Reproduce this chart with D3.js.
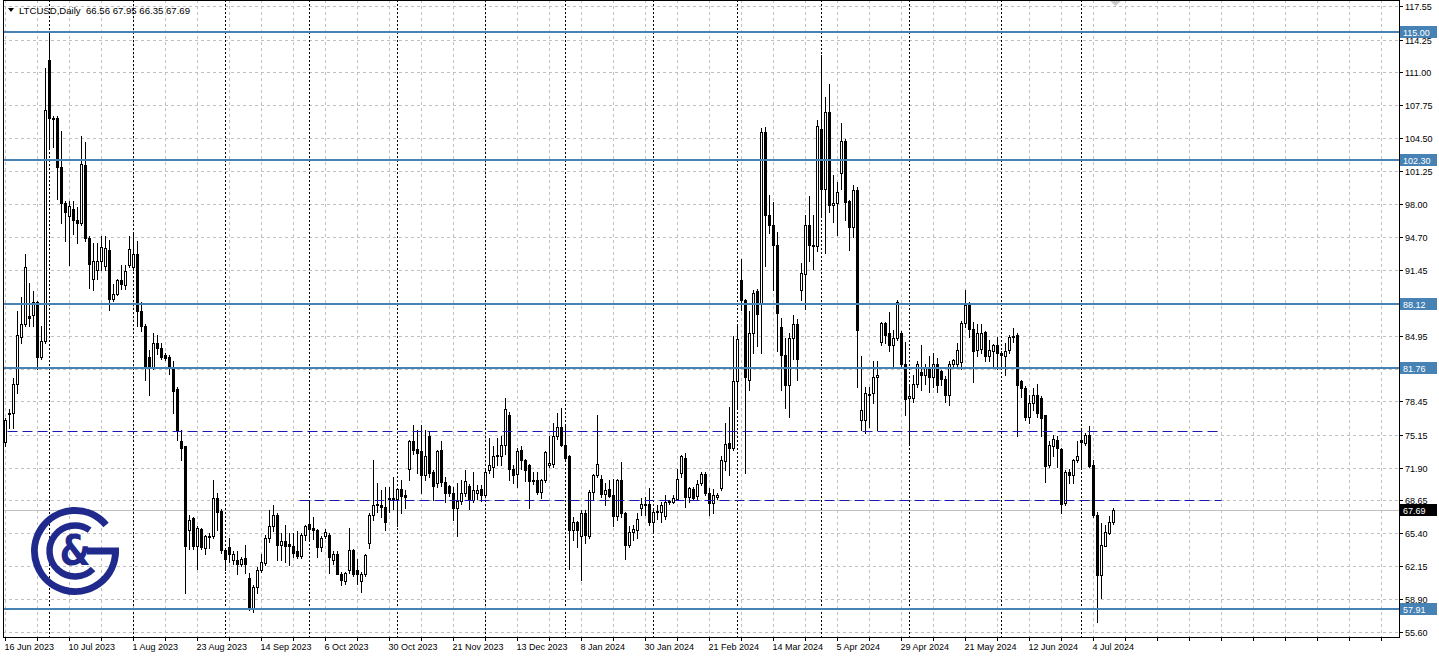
<!DOCTYPE html>
<html><head><meta charset="utf-8">
<script src="https://cdn.jsdelivr.net/npm/d3@7"></script>
<style>
html,body{margin:0;padding:0;background:#fff;overflow:hidden;}
svg{display:block;font-family:"Liberation Sans",Arial,sans-serif;}
</style></head><body>
<svg id="chart" width="1439" height="658"></svg>
<script>
// ---------- DATA ----------
const symbolTitle = "LTCUSD,Daily";
const lastBarOHLC = [66.56, 67.95, 66.35, 67.69];
const lastPrice = 67.69;

const dateLabels = ["16 Jun 2023","10 Jul 2023","1 Aug 2023","23 Aug 2023","14 Sep 2023","6 Oct 2023",
  "30 Oct 2023","21 Nov 2023","13 Dec 2023","8 Jan 2024","30 Jan 2024","21 Feb 2024","14 Mar 2024",
  "5 Apr 2024","29 Apr 2024","21 May 2024","12 Jun 2024","4 Jul 2024"];
const dateLabelBars = [0,16,32,48,64,80,96,112,128,144,160,176,192,208,224,240,256,272];
const monthStartBars = [11,32,55,76,98,120,140,162,183,204,226,249,269];

const priceTicks = ["117.55","114.25","111.00","107.75","104.50","101.25","98.00","94.70","91.45",
  "88.20","84.95","81.70","78.45","75.15","71.90","68.65","65.40","62.15","58.90","55.60"];
const hiddenTicks = ["88.20","81.70"];

const levelLines = [115.00, 102.30, 88.12, 81.76, 57.91];
const dashedLevels = [75.57, 68.74];
const dashedFromBar = [0, 73];
const dashedToBar = [304, 304];

// daily candles [open, high, low, close]
const candles = [
[74.4,76.8,74.0,76.6],[77.2,77.7,75.8,77.3],[77.3,80.8,75.8,80.2],[80.2,87.4,79.3,85.0],[84.8,88.8,84.2,86.1],
[86.1,93.0,85.9,91.7],[86.9,90.2,85.9,86.7],[87.0,89.4,85.9,88.3],[88.3,88.4,81.7,82.8],[82.8,85.9,82.6,84.4],
[84.4,111.4,84.2,107.25],[112.2,114.9,103.6,106.5],[106.5,106.7,103.6,106.4],[106.5,106.7,98.5,101.6],[101.6,105.2,96.1,98.1],
[98.1,98.3,94.3,97.2],[96.8,98.3,91.9,97.8],[97.5,98.3,95.0,96.4],[96.4,97.7,94.1,96.1],[96.1,104.7,95.9,101.9],
[101.8,104.1,94.3,94.6],[94.6,94.8,89.7,92.0],[90.6,94.1,89.5,92.3],[91.5,94.1,90.6,92.3],[92.3,94.8,91.5,93.7],
[91.8,94.8,91.5,93.6],[93.4,94.4,87.5,88.6],[88.6,90.1,88.4,89.1],[89.1,90.6,89.0,90.5],[90.5,91.9,89.6,90.1],
[90.0,91.9,89.6,91.4],[91.9,94.8,91.7,93.5],[91.7,95.0,91.5,93.0],[93.0,94.3,85.9,87.4],[87.4,88.3,85.4,85.9],
[85.9,86.1,80.6,81.9],[82.8,83.5,79.1,81.9],[81.9,85.2,81.7,84.2],[84.2,85.0,83.1,83.7],[83.7,84.2,82.6,82.8],
[83.0,83.2,82.5,82.7],[82.8,83.0,81.2,81.9],[81.9,82.4,77.3,79.5],[79.7,79.9,74.6,75.5],[74.5,75.6,72.7,73.8],
[74.0,74.0,59.5,64.1],[65.7,67.2,63.8,66.7],[66.9,67.0,63.8,64.1],[64.1,66.1,61.9,65.9],[65.8,65.9,63.8,64.0],
[63.9,65.2,63.4,65.1],[65.1,65.4,63.9,65.0],[65.1,70.7,64.9,68.9],[68.9,69.4,65.7,67.5],[67.6,67.8,63.5,63.7],
[63.7,63.9,61.8,62.9],[64.0,64.9,62.6,63.4],[62.8,63.6,62.4,63.4],[62.8,63.6,61.4,62.4],[62.4,63.1,62.2,62.9],
[63.0,64.2,61.5,62.4],[61.0,61.5,57.8,58.0],[58.0,60.3,57.6,60.1],[60.1,62.1,59.5,61.8],[61.8,63.4,61.6,62.6],
[62.5,65.2,62.3,64.9],[64.9,67.7,64.5,66.1],[66.1,68.2,65.6,67.2],[67.2,67.4,62.8,64.2],[64.2,65.4,62.8,64.6],
[64.6,66.2,62.6,64.1],[64.3,65.4,62.3,64.1],[64.1,65.4,63.1,63.5],[63.6,65.6,63.0,63.2],[63.2,65.4,63.0,65.2],
[65.2,66.2,64.7,66.1],[66.3,68.7,64.8,65.8],[65.9,67.0,64.8,65.7],[65.7,65.8,63.1,64.0],[64.0,65.1,63.6,64.9],
[65.1,65.8,64.9,65.5],[65.2,65.4,61.5,63.1],[62.8,63.6,62.4,63.4],[63.4,63.6,61.4,61.4],[61.4,61.6,60.3,60.8],
[60.7,61.6,60.4,61.5],[61.8,65.9,61.5,63.7],[63.7,63.8,61.2,61.4],[61.8,62.9,60.4,61.4],[60.7,61.6,59.6,61.4],
[61.4,63.4,61.2,63.3],[64.4,67.4,63.9,67.2],[67.2,72.7,66.7,68.2],[68.3,70.4,67.5,68.2],[68.2,69.7,67.0,68.0],
[68.0,70.0,65.7,66.5],[68.8,70.0,67.5,68.9],[68.8,71.0,67.8,68.9],[68.8,69.9,66.1,69.8],[69.8,70.7,67.4,69.1],
[69.2,69.7,67.9,69.0],[71.8,74.6,70.7,74.5],[74.5,76.1,73.2,73.6],[73.7,75.6,71.4,73.3],[73.5,76.1,69.4,71.2],
[71.2,75.6,70.7,73.05],[75.0,75.5,71.0,71.4],[71.5,71.7,68.7,70.1],[70.4,73.6,70.0,73.5],[73.6,74.5,70.1,70.5],
[70.5,71.0,68.5,69.4],[70.1,70.2,69.1,69.4],[69.4,70.0,66.7,67.9],[67.9,70.4,65.1,68.6],[68.6,70.7,68.3,69.4],
[69.4,71.7,69.1,70.6],[70.1,70.3,67.8,68.8],[68.7,71.5,68.5,69.7],[69.4,70.2,68.8,69.7],[69.8,70.2,68.6,69.2],
[69.2,71.7,69.0,71.5],[71.7,74.8,71.4,72.2],[72.0,74.0,71.0,73.05],[73.0,74.8,72.2,73.1],[73.0,75.0,72.2,74.1],
[74.1,78.8,73.2,77.7],[77.1,77.4,70.7,71.8],[71.8,72.2,70.35,71.2],[71.3,73.8,70.0,73.5],[73.6,74.0,71.8,72.7],
[72.7,72.8,70.6,71.7],[72.2,72.3,67.9,70.6],[70.7,71.5,70.3,70.6],[70.7,71.5,69.3,69.5],[69.5,70.8,68.9,70.7],
[70.7,73.5,70.5,73.4],[72.2,75.0,72.0,72.4],[72.3,76.3,72.0,75.0],[75.0,77.3,74.7,75.9],[75.9,77.8,74.0,74.1],
[74.1,76.0,72.8,72.9],[73.0,73.1,61.9,65.7],[65.7,67.0,64.7,66.5],[66.5,66.6,64.0,65.7],[65.1,67.7,60.8,67.4],
[67.4,67.7,64.4,65.2],[65.1,69.7,64.9,69.5],[69.5,71.3,68.7,71.2],[71.2,77.1,71.0,72.3],[70.8,71.2,69.0,69.3],
[69.3,70.4,68.2,69.7],[69.8,70.7,69.0,69.1],[69.2,70.8,66.1,67.1],[67.1,70.8,66.7,70.7],[70.7,72.5,67.0,67.4],
[67.4,67.5,62.9,64.2],[64.2,66.1,64.0,65.5],[65.5,66.2,64.7,65.8],[65.7,67.4,64.9,66.8],[67.9,68.9,67.2,68.3],
[68.3,69.0,67.2,68.2],[68.3,69.9,66.2,66.5],[66.5,67.9,65.5,67.5],[67.6,68.2,66.8,67.5],[67.5,68.5,66.5,68.2],
[67.1,69.2,66.8,68.5],[68.5,68.7,68.3,68.6],[68.5,69.2,68.4,68.9],[68.8,71.8,68.7,70.8],[71.4,73.15,71.0,73.0],
[72.9,73.3,68.0,69.0],[69.0,70.0,68.5,69.85],[69.8,70.0,68.8,68.9],[69.05,70.7,68.8,70.3],[70.4,71.5,70.2,71.3],
[71.3,71.5,69.2,69.4],[69.4,69.9,67.2,68.4],[68.4,69.8,67.4,69.2],[69.0,69.4,68.8,69.2],[69.85,73.0,69.7,72.65],
[72.6,76.3,71.7,74.2],[74.3,77.9,71.2,73.8],[73.8,84.9,73.6,80.5],[80.5,86.1,77.9,84.6],[90.5,92.5,87.5,88.5],
[88.5,88.6,71.4,80.9],[80.6,87.4,79.6,85.2],[85.2,89.5,83.2,89.2],[89.4,89.6,83.9,87.1],[88.1,105.5,83.2,105.1],
[105.1,105.6,91.8,96.9],[96.9,98.9,95.1,95.9],[95.9,98.2,89.5,93.9],[93.9,95.2,83.4,87.2],[85.8,86.7,79.6,83.0],
[83.0,84.7,77.8,80.1],[80.1,85.2,76.9,84.7],[84.7,87.0,82.6,86.1],[86.1,86.6,80.6,82.6],[89.5,92.1,88.5,91.2],
[91.1,96.9,87.6,95.9],[95.9,98.8,92.3,93.9],[93.9,96.9,91.6,93.8],[93.8,106.3,93.3,105.7],[105.4,112.7,96.9,99.5],
[99.5,108.6,93.1,107.1],[107.1,109.9,97.2,97.9],[97.9,100.9,96.2,98.1],[98.05,100.2,94.9,99.2],[101.0,106.0,99.5,104.2],
[104.2,104.4,96.4,98.2],[98.3,98.4,93.4,95.7],[95.7,99.9,94.7,99.4],[99.4,99.7,79.9,85.5],[76.6,82.9,75.6,77.6],
[76.6,79.9,75.3,79.25],[79.1,79.9,75.9,79.2],[79.25,82.4,78.3,80.9],[80.9,82.4,75.6,81.1],[84.35,86.3,84.0,86.2],
[86.2,86.3,84.2,85.0],[85.2,87.3,83.4,84.0],[84.0,85.5,81.9,84.7],[84.7,88.5,84.5,88.3],[85.2,85.4,81.9,82.2],
[82.2,84.35,77.1,78.7],[78.8,80.1,74.3,79.0],[78.8,81.1,78.4,80.2],[80.2,82.4,79.9,82.2],[81.4,84.0,79.6,81.1],
[81.1,82.2,80.2,81.9],[81.9,82.9,79.4,80.9],[80.9,83.2,79.9,82.2],[82.2,82.7,79.4,80.1],[81.5,81.6,80.1,80.7],
[80.7,81.0,78.4,79.1],[79.1,82.4,78.1,82.2],[82.2,82.6,82.0,82.5],[82.2,84.2,82.0,83.5],[82.3,86.4,81.7,86.2],
[86.2,89.5,85.8,88.0],[88.0,88.3,84.85,85.6],[85.6,86.3,80.4,83.4],[83.5,86.1,82.9,85.25],[83.6,86.1,83.2,85.2],
[85.35,85.4,82.4,82.95],[82.9,84.5,82.4,83.5],[83.4,84.1,81.9,84.0],[84.0,84.85,81.7,83.2],[83.2,83.4,81.9,83.0],
[82.9,84.2,81.1,83.4],[83.5,85.0,83.2,84.8],[84.8,85.7,84.35,84.9],[85.0,85.2,75.0,80.1],[80.5,80.6,78.9,79.75],
[79.75,80.0,76.6,76.9],[76.9,79.1,76.3,78.3],[78.3,79.75,77.6,79.1],[79.1,80.2,76.9,77.3],[78.8,79.0,75.0,76.8],
[77.1,77.1,70.5,72.1],[72.2,74.5,72.0,74.1],[74.0,75.1,73.0,74.7],[74.6,75.0,72.0,73.8],[73.7,73.8,67.4,68.3],
[68.4,71.7,68.2,71.5],[71.5,71.8,70.35,71.2],[71.2,72.8,70.35,72.65],[72.65,74.5,72.5,73.05],[74.6,75.6,72.0,74.4],
[74.3,75.3,74.1,75.1],[75.1,76.0,72.0,72.1],[72.2,72.7,67.0,67.2],[67.2,67.5,56.65,61.3],[61.3,66.4,59.0,64.2],
[64.1,66.2,64.1,65.5],[65.4,67.1,65.3,66.55],[66.56,67.95,66.35,67.69]
];

// ---------- LAYOUT ----------
const W = 1439, H = 658;
const plotL = 3, plotR = 1399, plotT = 0, plotB = 637;
const barStep = 4;
const maxBars = Math.floor((plotR - 5.5) / barStep);

const x = d3.scaleLinear().domain([0, 1]).range([5.5, 5.5 + barStep]);
const y = d3.scaleLinear().domain([55.14, 118.166]).range([plotB, plotT]);
const py = v => Math.round(y(v)) + 0.5;

const svg = d3.select("#chart");
svg.append("rect").attr("width", W).attr("height", H).attr("fill", "#ffffff");

svg.append("defs").append("clipPath").attr("id", "plotclip")
  .append("rect").attr("x", plotL + 1).attr("y", plotT).attr("width", plotR - plotL - 1).attr("height", plotB - plotT);
const g = svg.append("g").attr("clip-path", "url(#plotclip)");

// horizontal grid
g.append("g").selectAll("line").data(priceTicks).join("line")
  .attr("x1", plotL).attr("x2", plotR)
  .attr("y1", d => py(+d)).attr("y2", d => py(+d))
  .attr("stroke", "#c0c0c0").attr("stroke-width", 1).attr("stroke-dasharray", "3,3");

// vertical grid every 8 bars
const vGrid = d3.range(0, maxBars + 1, 8);
g.append("g").selectAll("line").data(vGrid).join("line")
  .attr("x1", d => x(d)).attr("x2", d => x(d))
  .attr("y1", plotT).attr("y2", plotB)
  .attr("stroke", "#c0c0c0").attr("stroke-width", 1).attr("stroke-dasharray", "3,3");

// month separators
g.append("g").selectAll("line").data(monthStartBars).join("line")
  .attr("x1", d => x(d)).attr("x2", d => x(d))
  .attr("y1", plotT).attr("y2", plotB)
  .attr("stroke", "#000").attr("stroke-width", 1).attr("stroke-dasharray", "2,2");

// last price line
g.append("line").attr("x1", plotL).attr("x2", plotR)
  .attr("y1", py(lastPrice)).attr("y2", py(lastPrice))
  .attr("stroke", "#c0c0c0").attr("stroke-width", 1);

// candles
const cg = g.append("g");
candles.forEach((d, i) => {
  const [o, h, l, c] = d;
  const cx = x(i);
  cg.append("line").attr("x1", cx).attr("x2", cx)
    .attr("y1", Math.round(y(h))).attr("y2", Math.round(y(l)) + 1)
    .attr("stroke", "#000").attr("stroke-width", 1);
  const top = Math.round(y(Math.max(o, c))), bot = Math.round(y(Math.min(o, c)));
  const bull = c >= o;
  cg.append("rect").attr("x", cx - 1).attr("y", top + 0.5)
    .attr("width", 2).attr("height", Math.max(0, bot - top))
    .attr("fill", bull ? "#fff" : "#000").attr("stroke", "#000").attr("stroke-width", 1);
});

// solid level lines
g.append("g").selectAll("line").data(levelLines).join("line")
  .attr("x1", plotL).attr("x2", plotR)
  .attr("y1", d => Math.round(y(d))).attr("y2", d => Math.round(y(d)))
  .attr("stroke", "#4682b4").attr("stroke-width", 2);

// dashed levels
g.append("g").selectAll("line").data(dashedLevels).join("line")
  .attr("x1", (d, i) => x(dashedFromBar[i]) + 2).attr("x2", (d, i) => x(dashedToBar[i]))
  .attr("y1", d => py(d)).attr("y2", d => py(d))
  .attr("stroke", "#1a1ab0").attr("stroke-width", 1.2).attr("stroke-dasharray", "10,5");

// frame
svg.append("rect").attr("x", plotL + 0.5).attr("y", plotT + 0.5)
  .attr("width", plotR - plotL).attr("height", plotB - plotT)
  .attr("fill", "none").attr("stroke", "#000").attr("stroke-width", 1);

// price axis labels
const ax = svg.append("g").attr("font-size", 9).attr("fill", "#000");
priceTicks.filter(t => !hiddenTicks.includes(t)).forEach(t => {
  const yy = py(+t);
  ax.append("line").attr("x1", plotR).attr("x2", plotR + 4).attr("y1", yy).attr("y2", yy).attr("stroke", "#000");
  ax.append("text").attr("x", plotR + 6).attr("y", yy + 3.5).text(t);
});

// level labels (boxes)
levelLines.forEach(v => {
  const yy = Math.round(y(v));
  ax.append("rect").attr("x", plotR + 1).attr("y", yy - 6).attr("width", 37).attr("height", 12).attr("fill", "#4682b4");
  ax.append("text").attr("x", plotR + 4).attr("y", yy + 3.5).attr("fill", "#fff").text(v.toFixed(2));
});
{
  const yy = Math.round(y(lastPrice));
  ax.append("rect").attr("x", plotR + 1).attr("y", yy - 6).attr("width", 37).attr("height", 12).attr("fill", "#000");
  ax.append("text").attr("x", plotR + 4).attr("y", yy + 3.5).attr("fill", "#fff").text(lastPrice.toFixed(2));
}

// date axis
const dx = svg.append("g").attr("font-size", 9).attr("fill", "#000");
vGrid.forEach(b => {
  dx.append("line").attr("x1", x(b)).attr("x2", x(b)).attr("y1", plotB).attr("y2", plotB + 4).attr("stroke", "#000");
});
dateLabels.forEach((t, k) => {
  dx.append("text").attr("x", x(dateLabelBars[k]) - 1).attr("y", plotB + 13).text(t);
});

// header
svg.append("path").attr("d", "M8,8 L14,8 L11,12 Z").attr("fill", "#000");
svg.append("text").attr("x", 19).attr("y", 13.5).attr("font-size", 9.6)
  .text(symbolTitle + "  " + lastBarOHLC.map(v => v.toFixed(2)).join(" "))
  .attr("xml:space", "preserve").style("white-space", "pre");

// chart shift marker
svg.append("path").attr("d", "M1110,1 L1121,1 L1115.5,6 Z").attr("fill", "#c8c8c8");

// logo
const logo = svg.append("g").attr("transform", "translate(75,551)");
const navy = "#1f2a8c";
const arcPath = (r, a0, a1) => {
  const p = d3.path();
  p.arc(0, 0, r, a0, a1, true);
  return p.toString();
};
logo.append("path").attr("d", arcPath(40.5, -40 * Math.PI / 180, -360 * Math.PI / 180))
  .attr("fill", "none").attr("stroke", navy).attr("stroke-width", 7);
logo.append("rect").attr("x", 12).attr("y", -3.5).attr("width", 32).attr("height", 7).attr("fill", navy);
logo.append("path").attr("d", arcPath(25.5, -55 * Math.PI / 180, -315 * Math.PI / 180))
  .attr("fill", "none").attr("stroke", navy).attr("stroke-width", 6.5);
logo.append("text").attr("x", 0).attr("y", 14).attr("text-anchor", "middle")
  .attr("font-family", "DejaVu Sans").attr("font-weight", "bold").attr("font-size", 42)
  .attr("transform", "scale(0.85,1)")
  .attr("fill", navy).text("&");
</script>
</body></html>
